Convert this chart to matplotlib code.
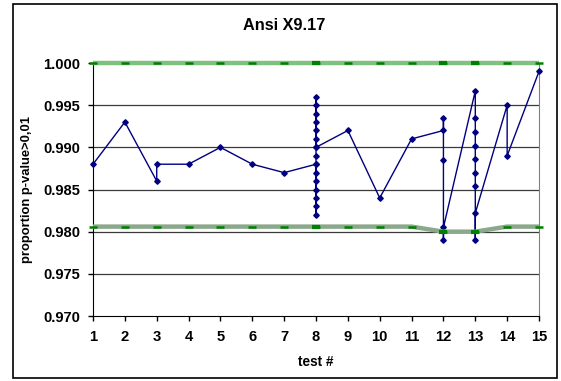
import matplotlib
matplotlib.use("Agg")
import matplotlib.pyplot as plt
from matplotlib.patches import Rectangle

plt.rcParams["font.family"] = ["Liberation Sans", "DejaVu Sans"]

# --- proportion of sequences passing, one entry per point (tests may have several) ---
test_x = [1, 2, 3, 3, 4, 5, 6, 7,
          8, 8, 8, 8, 8, 8, 8, 8, 8, 8, 8, 8, 8, 8, 8, 8, 8,
          9, 10, 11,
          12, 12, 12, 12, 12,
          13, 13, 13, 13, 13, 13, 13, 13, 13,
          14, 14, 15]
proportion = [0.988, 0.993, 0.986, 0.988, 0.988, 0.990, 0.988, 0.987,
              0.988, 0.982, 0.983, 0.984, 0.985, 0.986, 0.987, 0.988, 0.989,
              0.990, 0.991, 0.992, 0.993, 0.994, 0.995, 0.996, 0.990,
              0.992, 0.984, 0.991,
              0.992, 0.9935, 0.9885, 0.979, 0.9805,
              0.9967, 0.9935, 0.9918, 0.9902, 0.9886, 0.987, 0.9854, 0.979, 0.9822,
              0.995, 0.989, 0.999]

# --- confidence interval bounds ---
bound_x = [1, 2, 3, 4, 5, 6, 7, 8, 9, 10, 11, 12, 13, 14, 15]
upper_bound = [1.000, 1.000, 1.000, 1.000, 1.000, 1.000, 1.000, 1.000,
               1.000, 1.000, 1.000, 1.000, 1.000, 1.000, 1.000]
lower_bound = [0.9806, 0.9806, 0.9806, 0.9806, 0.9806, 0.9806, 0.9806, 0.9806,
               0.9806, 0.9806, 0.9806, 0.9800, 0.9800, 0.9806, 0.9806]
multi_tests = [8, 12, 13]

fig = plt.figure(figsize=(5.61, 3.81), dpi=100)
ax = fig.add_axes([0.1658, 0.1706, 0.795, 0.664])

ax.set_xlim(1, 15)
ax.set_ylim(0.970, 1.000)
ax.set_yticks([0.970, 0.975, 0.980, 0.985, 0.990, 0.995, 1.000])
ax.set_xticks(bound_x)
ax.yaxis.set_major_formatter(matplotlib.ticker.FormatStrFormatter("%.3f"))
ax.tick_params(axis="both", direction="out", length=3.5, width=1, color="black",
               labelsize=10.6)
ax.tick_params(axis="y", pad=5.8)
ax.tick_params(axis="x", pad=6.5)
for lab in ax.get_xticklabels() + ax.get_yticklabels():
    lab.set_fontweight("bold")

for gy in [0.975, 0.980, 0.985, 0.990, 0.995]:
    ax.axhline(gy, color="#3a3a3a", lw=0.9, zorder=1)

ax.spines["left"].set_color("black")
ax.spines["bottom"].set_color("black")
ax.spines["right"].set_color("#808080")
ax.spines["top"].set_visible(False)

# data series
ax.plot(test_x, proportion, color="#000080", lw=1.0, marker="D", ms=2.8,
        mfc="#000080", mec="#000080", zorder=3, clip_on=False)

# bounds: thick pale band with dark dash markers
ax.plot(bound_x, upper_bound, color="#80c080", lw=3.2, zorder=4, clip_on=False,
        solid_capstyle="butt")
ax.plot(bound_x, lower_bound, color="#8aa88a", lw=3.2, zorder=4, clip_on=False,
        solid_capstyle="butt")
for vals in (upper_bound, lower_bound):
    ax.plot(bound_x, vals, ls="none", marker="_", ms=5.5, mew=1.8,
            color="#008000", zorder=5, clip_on=False)
    ax.plot(multi_tests, [vals[i - 1] for i in multi_tests], ls="none",
            marker="_", ms=5.5, mew=3, color="#008000", zorder=5, clip_on=False)

ax.set_xlabel("test #", fontsize=9.8, fontweight="bold", labelpad=8)
ax.set_ylabel("proportion p-value>0,01", fontsize=9.4, fontweight="bold", labelpad=7)
fig.text(0.506, 0.934, "Ansi X9.17", ha="center", va="center", fontsize=11.7,
         fontweight="bold")

# outer chart frame
fig.patches.append(Rectangle((13 / 561, 1 - 378 / 381), 544 / 561, 374 / 381,
                             transform=fig.transFigure, fill=False,
                             edgecolor="black", lw=1.2))

fig.savefig("out.png", dpi=100)
